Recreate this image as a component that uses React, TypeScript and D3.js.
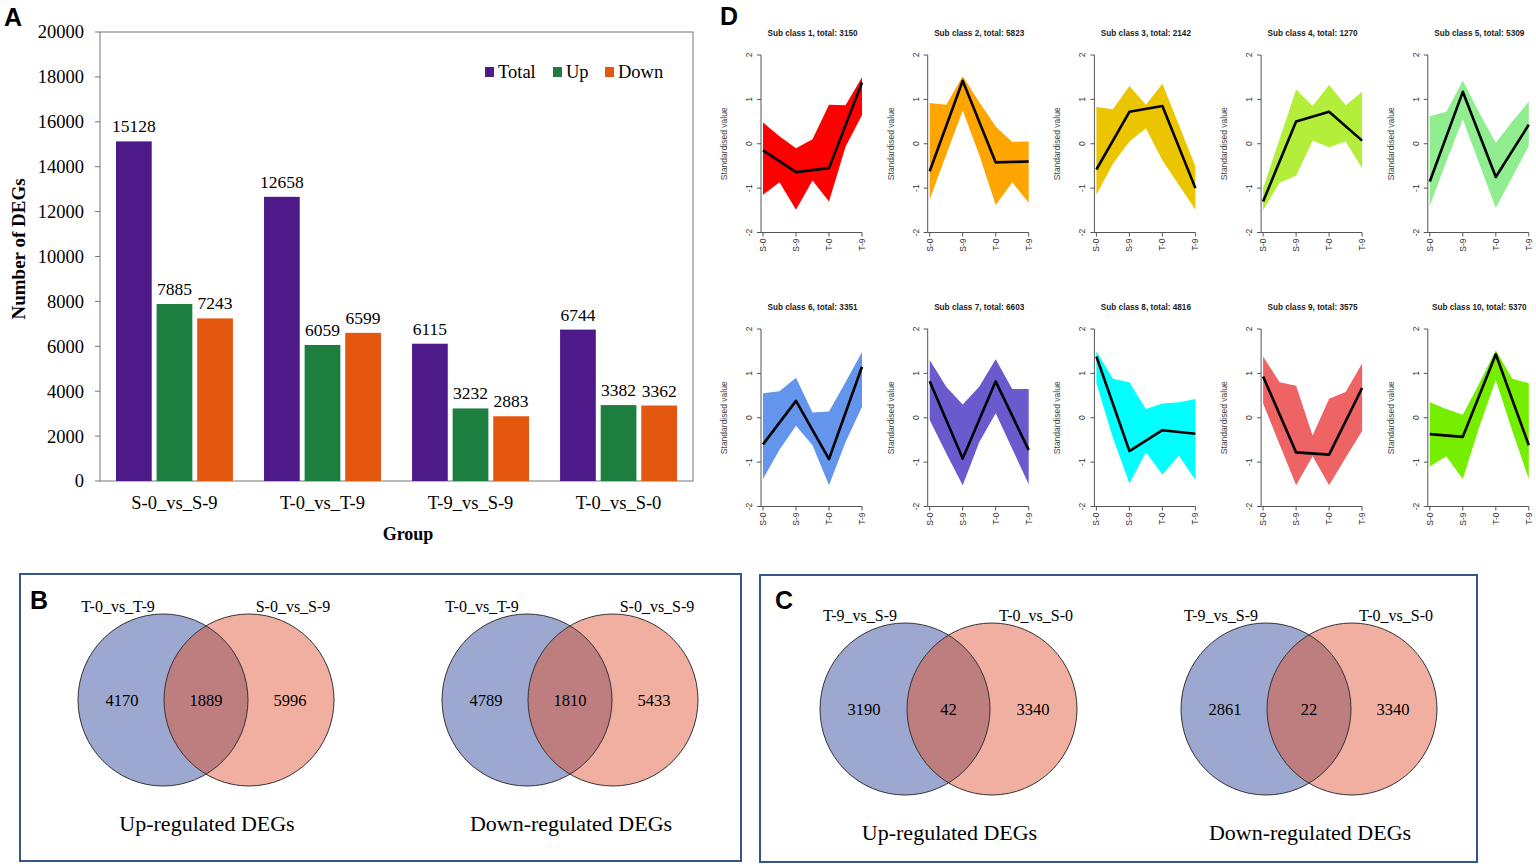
import * as d3 from 'd3';

// ---- panel A: DEG counts per comparison
const groups = ['S-0_vs_S-9', 'T-0_vs_T-9', 'T-9_vs_S-9', 'T-0_vs_S-0'];
const seriesNames = ['Total', 'Up', 'Down'];
const seriesColors = ['#4E1A89', '#1C7F40', '#E4570F'];
const totalValues = [15128, 12658, 6115, 6744];
const upValues = [7885, 6059, 3232, 3382];
const downValues = [7243, 6599, 2883, 3362];
const countTicks = [0, 2000, 4000, 6000, 8000, 10000, 12000, 14000, 16000, 18000, 20000];

// ---- panels B, C: venn overlaps [left only, shared, right only]
const vennSetNames = [
  ['T-0_vs_T-9', 'S-0_vs_S-9'],
  ['T-0_vs_T-9', 'S-0_vs_S-9'],
  ['T-9_vs_S-9', 'T-0_vs_S-0'],
  ['T-9_vs_S-9', 'T-0_vs_S-0'],
];
const vennCounts = [
  [4170, 1889, 5996],
  [4789, 1810, 5433],
  [3190, 42, 3340],
  [2861, 22, 3340],
];
const vennTitles = ['Up-regulated DEGs', 'Down-regulated DEGs', 'Up-regulated DEGs', 'Down-regulated DEGs'];

// ---- panel D: expression profile clusters
const timePoints = ['S-0', 'S-9', 'T-0', 'T-9'];
const profileTicks = [-2, -1, 0, 1, 2];
const subclassTotals = [3150, 5823, 2142, 1270, 5309, 3351, 6603, 4816, 3575, 5370];
const subclassColors = [
  '#FF0000', '#FFA500', '#EBC600', '#B3EE3A', '#90EE90',
  '#6495ED', '#6A5ACD', '#00FFFF', '#EE6363', '#76EE00',
];
const centroids = [
  [-0.15, -0.64, -0.55, 1.38],
  [-0.62, 1.42, -0.42, -0.4],
  [-0.58, 0.72, 0.85, -1.0],
  [-1.3, 0.5, 0.72, 0.07],
  [-0.85, 1.17, -0.75, 0.43],
  [-0.6, 0.38, -0.93, 1.15],
  [0.82, -0.92, 0.82, -0.73],
  [1.38, -0.75, -0.28, -0.36],
  [0.93, -0.78, -0.83, 0.67],
  [-0.37, -0.43, 1.43, -0.62],
];
// envelope edges sampled every half step from S-0 to T-9
const upperBounds = [
  [0.48, 0.17, -0.1, 0.1, 0.88, 0.87, 1.5],
  [0.92, 0.88, 1.52, 0.94, 0.39, 0.04, 0.05],
  [0.83, 0.78, 1.3, 0.88, 1.35, 0.42, -0.51],
  [-1.0, 0.1, 1.22, 0.85, 1.33, 0.87, 1.17],
  [0.62, 0.72, 1.42, 0.7, 0.02, 0.5, 0.95],
  [0.55, 0.6, 0.9, 0.12, 0.14, 0.8, 1.48],
  [1.3, 0.7, 0.3, 0.7, 1.32, 0.65, 0.65],
  [1.5, 0.88, 0.8, 0.2, 0.32, 0.35, 0.42],
  [1.38, 0.8, 0.72, -0.4, 0.43, 0.58, 1.22],
  [0.35, 0.2, 0.07, 0.78, 1.52, 0.88, 0.78],
];
const lowerBounds = [
  [-1.15, -0.87, -1.49, -0.83, -1.3, -0.07, 0.65],
  [-1.25, -0.25, 0.75, -0.25, -1.38, -0.87, -1.33],
  [-1.15, -0.45, 0.05, 0.35, -0.38, -0.93, -1.49],
  [-1.5, -0.88, -0.72, 0.07, -0.08, 0.05, -0.55],
  [-1.4, -0.4, 0.55, -0.45, -1.45, -0.75, -0.05],
  [-1.38, -0.72, -0.18, -0.62, -1.52, -0.55, 0.25],
  [-0.05, -0.8, -1.52, -0.55, 0.1, -0.7, -1.5],
  [0.78, -0.45, -1.48, -0.78, -1.28, -0.85, -1.4],
  [0.32, -0.6, -1.52, -0.87, -1.52, -0.9, -0.3],
  [-1.1, -0.87, -1.38, -0.2, 0.85, -0.3, -1.38],
];

const SERIF = '"Liberation Serif", "Times New Roman", serif';
const SANS = '"Liberation Sans", Arial, sans-serif';

function BarPanel() {
  const left = 100;
  const right = 693;
  const top = 32;
  const bottom = 481;
  const x0 = d3.scaleBand().domain(groups).range([left, right]).paddingInner(0.21).paddingOuter(0.108);
  const x1 = d3.scaleBand().domain(seriesNames).range([0, x0.bandwidth()]).paddingInner(0.12);
  const y = d3.scaleLinear().domain([0, 20000]).range([bottom, top]);
  const seriesValues = [totalValues, upValues, downValues];

  return (
    <g fontFamily={SERIF}>
      <text x={4} y={26} fontFamily={SANS} fontWeight="bold" fontSize={25}>A</text>
      <rect x={left} y={top} width={right - left} height={bottom - top} fill="none" stroke="#777" strokeWidth={1} />
      {countTicks.map((t) => (
        <g key={t}>
          <line x1={left - 5} x2={left} y1={y(t)} y2={y(t)} stroke="#777" />
          <text x={84} y={y(t)} dy="0.35em" textAnchor="end" fontSize={18.5}>{t}</text>
        </g>
      ))}
      {groups.map((g, gi) => (
        <g key={g} transform={`translate(${x0(g)},0)`}>
          {seriesNames.map((s, si) => {
            const v = seriesValues[si][gi];
            const bx = x1(s) ?? 0;
            return (
              <g key={s}>
                <rect x={bx} y={y(v)} width={x1.bandwidth()} height={bottom - y(v)} fill={seriesColors[si]} />
                <text x={bx + x1.bandwidth() / 2} y={y(v) - 9} textAnchor="middle" fontSize={17.5}>{v}</text>
              </g>
            );
          })}
          <text x={x0.bandwidth() / 2} y={509} textAnchor="middle" fontSize={18.5}>{g}</text>
        </g>
      ))}
      <text x={408} y={540} textAnchor="middle" fontWeight="bold" fontSize={18}>Group</text>
      <text transform="translate(25,249) rotate(-90)" textAnchor="middle" fontWeight="bold" fontSize={19}>
        Number of DEGs
      </text>
      {seriesNames.map((s, i) => {
        const lx = [485, 553, 605][i];
        return (
          <g key={s}>
            <rect x={lx} y={67} width={9} height={10} fill={seriesColors[i]} />
            <text x={lx + 13} y={78} fontSize={18.5}>{s}</text>
          </g>
        );
      })}
    </g>
  );
}

function ProfilePlot({ index }: { index: number }) {
  const row = Math.floor(index / 5);
  const col = index % 5;
  const xStart = 763 + col * 166.7;
  const yTop = row === 0 ? 55 : 329;
  const yBottom = yTop + 177.5;
  const x = d3.scaleLinear().domain([0, 3]).range([xStart, xStart + 99]);
  const y = d3.scaleLinear().domain([-2, 2]).range([yBottom, yTop]);
  const samples = upperBounds[index].map((u, i) => ({ t: i * 0.5, u, l: lowerBounds[index][i] }));
  const area = d3
    .area<{ t: number; u: number; l: number }>()
    .x((d) => x(d.t))
    .y0((d) => y(d.l))
    .y1((d) => y(d.u));
  const line = d3
    .line<number>()
    .x((_, i) => x(i))
    .y((d) => y(d));
  const axisX = xStart - 2;

  return (
    <g fontFamily={SANS}>
      <text x={xStart + 49.5} y={yTop - 19} textAnchor="middle" fontWeight="bold" fontSize={8.2} fill="#222">
        {`Sub class ${index + 1}, total: ${subclassTotals[index]}`}
      </text>
      <path d={area(samples) ?? ''} fill={subclassColors[index]} />
      <path d={line(centroids[index]) ?? ''} fill="none" stroke="#000" strokeWidth={2.6} strokeLinejoin="round" />
      <line x1={axisX} x2={axisX} y1={yTop} y2={yBottom} stroke="#555" />
      {profileTicks.map((t) => (
        <g key={t}>
          <line x1={axisX - 4} x2={axisX} y1={y(t)} y2={y(t)} stroke="#555" />
          <text transform={`translate(${axisX - 9},${y(t)}) rotate(-90)`} textAnchor="middle" fontSize={8.5} fill="#333">
            {t}
          </text>
        </g>
      ))}
      <line x1={axisX} x2={x(3)} y1={yBottom} y2={yBottom} stroke="#555" />
      {timePoints.map((tp, i) => (
        <g key={tp}>
          <line x1={x(i)} x2={x(i)} y1={yBottom} y2={yBottom + 4} stroke="#555" />
          <text transform={`translate(${x(i) + 3},${yBottom + 6}) rotate(-90)`} textAnchor="end" fontSize={8.5} fill="#333">
            {tp}
          </text>
        </g>
      ))}
      <text transform={`translate(${xStart - 36},${(yTop + yBottom) / 2}) rotate(-90)`} textAnchor="middle" fontSize={8.5} fill="#444">
        Standardised value
      </text>
    </g>
  );
}

type VennProps = { index: number; cx1: number; cx2: number; cy: number };

function Venn({ index, cx1, cx2, cy }: VennProps) {
  const rx = 85;
  const ry = 86;
  const clipId = `venn-clip-${index}`;
  const [a, b] = vennSetNames[index];
  const [onlyA, both, onlyB] = vennCounts[index];
  const mid = (cx1 + cx2) / 2;
  return (
    <g fontFamily={SERIF}>
      <defs>
        <clipPath id={clipId}>
          <ellipse cx={cx1} cy={cy} rx={rx} ry={ry} />
        </clipPath>
      </defs>
      <ellipse cx={cx1} cy={cy} rx={rx} ry={ry} fill="#9CA8CF" />
      <ellipse cx={cx2} cy={cy} rx={rx} ry={ry} fill="#F0AFA0" />
      <ellipse cx={cx2} cy={cy} rx={rx} ry={ry} fill="#BE7E80" clipPath={`url(#${clipId})`} />
      <ellipse cx={cx1} cy={cy} rx={rx} ry={ry} fill="none" stroke="#333" strokeWidth={1} />
      <ellipse cx={cx2} cy={cy} rx={rx} ry={ry} fill="none" stroke="#333" strokeWidth={1} />
      <text x={cx1 - 45} y={cy - 88} textAnchor="middle" fontSize={16}>{a}</text>
      <text x={cx2 + 44} y={cy - 88} textAnchor="middle" fontSize={16}>{b}</text>
      <text x={cx1 - 41} y={cy + 6} textAnchor="middle" fontSize={16.5}>{onlyA}</text>
      <text x={mid} y={cy + 6} textAnchor="middle" fontSize={16.5}>{both}</text>
      <text x={cx2 + 41} y={cy + 6} textAnchor="middle" fontSize={16.5}>{onlyB}</text>
      <text x={mid + 1} y={cy + 131} textAnchor="middle" fontSize={22}>{vennTitles[index]}</text>
    </g>
  );
}

export default function App() {
  return (
    <svg
      width={1536}
      height={867}
      viewBox="0 0 1536 867"
      style={{ position: 'absolute', left: 0, top: 0, background: '#fff' }}
    >
      <rect width={1536} height={867} fill="#fff" />
      <BarPanel />

      <text x={720} y={25} fontFamily={SANS} fontWeight="bold" fontSize={25}>D</text>
      {subclassTotals.map((_, i) => (
        <ProfilePlot key={i} index={i} />
      ))}

      <rect x={20} y={574} width={721} height={287} fill="none" stroke="#34578A" strokeWidth={2} />
      <text x={30} y={609} fontFamily={SANS} fontWeight="bold" fontSize={25}>B</text>
      <Venn index={0} cx1={163} cx2={249} cy={700} />
      <Venn index={1} cx1={527} cx2={613} cy={700} />

      <rect x={760} y={575} width={717} height={287} fill="none" stroke="#34578A" strokeWidth={2} />
      <text x={775} y={609} fontFamily={SANS} fontWeight="bold" fontSize={25}>C</text>
      <Venn index={2} cx1={905} cx2={992} cy={709} />
      <Venn index={3} cx1={1266} cx2={1352} cy={709} />
    </svg>
  );
}
